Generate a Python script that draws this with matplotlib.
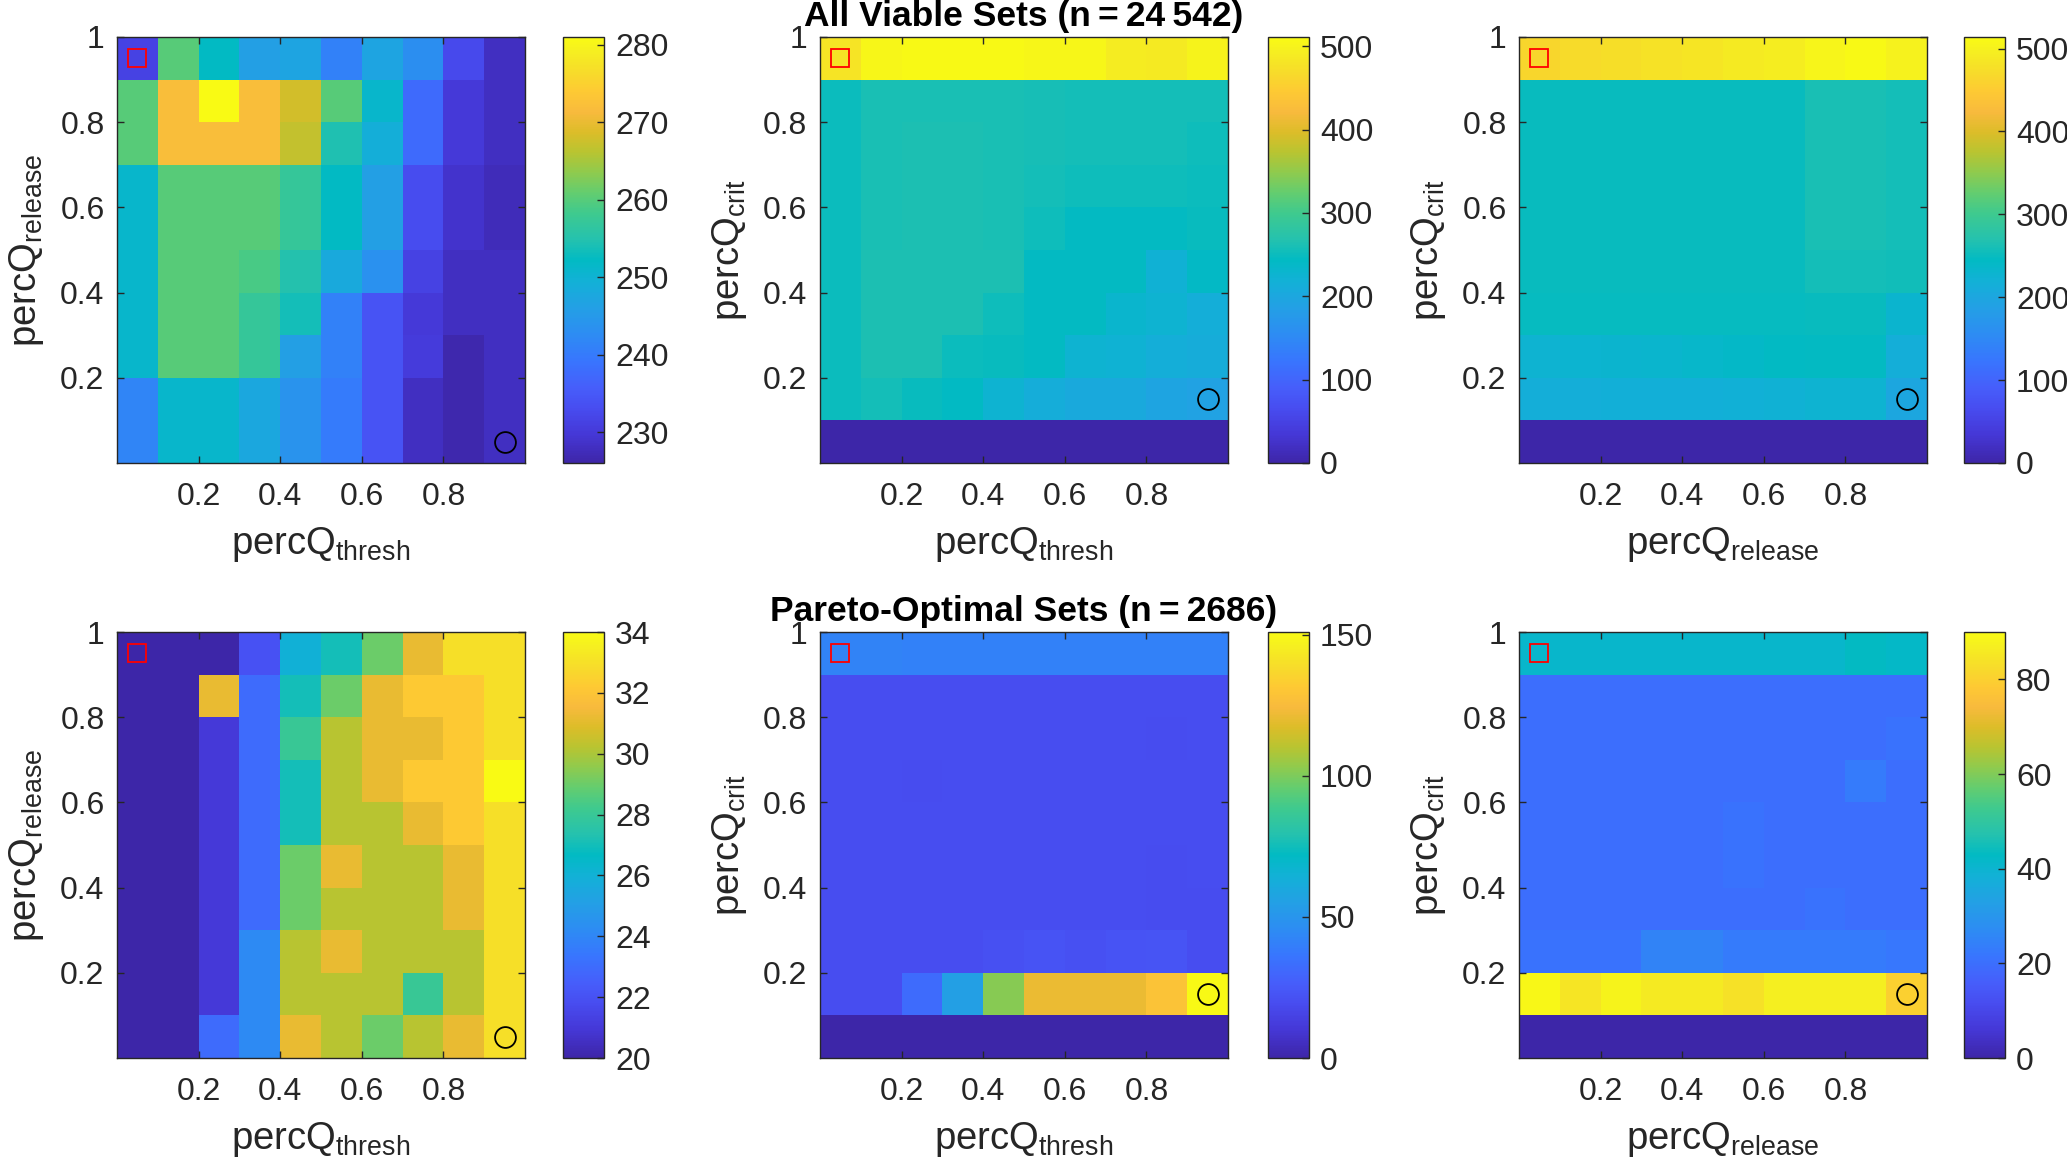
import numpy as np
import matplotlib
matplotlib.use("Agg")
import matplotlib.pyplot as plt
from matplotlib.colors import LinearSegmentedColormap

plt.rcParams['font.family'] = ['Liberation Sans', 'DejaVu Sans']
plt.rcParams['mathtext.fontset'] = 'custom'
plt.rcParams['mathtext.rm'] = 'Liberation Sans'

# rows listed from top (0.9-1) to bottom (0-0.1), columns left to right
viable_rel_thr = [
    [231.5, 260, 252, 246, 247, 241, 247, 243, 232.5, 228],
    [260, 272, 281, 272, 268, 260, 251, 237.5, 230, 228],
    [260, 272, 272, 272, 267, 254.5, 249, 237.5, 230, 228],
    [251, 260, 260, 260, 257, 252, 246, 233, 229, 227.5],
    [251, 260, 260, 260, 257, 252, 246, 233, 229, 227.5],
    [251, 260, 260, 259, 255, 248, 243.5, 231.5, 228, 228],
    [251, 260, 260, 257, 253.5, 241, 234, 230, 228, 228],
    [251, 260, 260, 257, 246, 241, 234, 230.5, 226.5, 228],
    [241.5, 251, 251, 247.5, 244, 240, 234, 228, 226.5, 228],
    [241.5, 251, 251, 247.5, 244, 240, 234, 228, 226.5, 228],
]
viable_crit_thr = [
    [480, 505, 508, 508, 508, 505, 505, 490, 488, 500],
    [250, 260, 260, 260, 260, 258, 256, 256, 256, 256],
    [250, 260, 263, 263, 260, 258, 256, 256, 256, 253],
    [250, 260, 263, 263, 260, 256, 253, 253, 253, 250],
    [250, 260, 263, 263, 260, 253, 245, 245, 245, 248],
    [250, 263, 263, 263, 263, 245, 245, 245, 220, 240],
    [250, 263, 263, 263, 253, 245, 245, 230, 225, 215],
    [250, 263, 263, 250, 248, 245, 225, 222, 215, 210],
    [250, 256, 248, 243, 225, 212, 205, 205, 195, 190],
    [0, 0, 0, 0, 0, 0, 0, 0, 0, 0],
]
viable_crit_rel = [
    [465, 470, 475, 480, 485, 490, 495, 505, 510, 500],
    [250, 250, 250, 250, 250, 250, 250, 262, 262, 258],
    [250, 250, 250, 250, 250, 250, 250, 262, 262, 258],
    [250, 250, 250, 250, 250, 250, 250, 262, 262, 258],
    [250, 250, 250, 250, 250, 250, 250, 262, 262, 258],
    [250, 250, 250, 250, 250, 250, 250, 258, 258, 255],
    [248, 248, 248, 248, 248, 248, 248, 250, 250, 230],
    [225, 228, 230, 232, 235, 240, 243, 245, 245, 215],
    [215, 215, 217, 218, 218, 220, 222, 225, 225, 200],
    [0, 0, 0, 0, 0, 0, 0, 0, 0, 0],
]
pareto_rel_thr = [
    [20, 20, 20, 22, 26, 27, 29, 31.2, 33, 33],
    [20, 20, 31.2, 23, 27, 29, 31.2, 32.2, 32.2, 33],
    [20, 20, 21, 23, 28, 30.2, 31.2, 31.2, 32.2, 33],
    [20, 20, 21, 23, 27, 30.2, 31.2, 32.2, 32.2, 34],
    [20, 20, 21, 23, 27, 30.2, 30.2, 31.2, 32.2, 33],
    [20, 20, 21, 23, 29, 31.2, 30.2, 30.2, 31.2, 33],
    [20, 20, 21, 23, 29, 30.2, 30.2, 30.2, 31.2, 33],
    [20, 20, 21, 24.2, 30.2, 31.2, 30.2, 30.2, 30.2, 33],
    [20, 20, 21, 24.2, 30.2, 30.2, 30.2, 28, 30.2, 33],
    [20, 20, 23, 24.2, 31.2, 30.2, 29, 30.2, 31.2, 33],
]
pareto_crit_thr = [
    [42, 42, 41, 41, 41, 41, 41, 41, 41, 41],
    [20, 20, 20, 20, 20, 20, 20, 20, 20, 20],
    [20, 20, 20, 20, 20, 20, 20, 20, 19, 20],
    [20, 20, 19, 20, 20, 20, 20, 20, 20, 20],
    [20, 20, 20, 20, 20, 20, 20, 20, 20, 20],
    [20, 20, 20, 20, 20, 20, 20, 20, 19, 20],
    [20, 20, 20, 20, 20, 20, 20, 20, 19, 19],
    [20, 20, 20, 20, 21, 22, 21, 22, 23, 20],
    [20, 20, 32, 55, 102, 121, 121, 121, 129, 150],
    [0, 0, 0, 0, 0, 0, 0, 0, 0, 0],
]
pareto_crit_rel = [
    [41, 41, 41, 41, 41, 41, 41, 41, 43, 42],
    [20, 20, 20, 20, 20, 20, 20, 20, 20, 20],
    [20, 20, 20, 20, 20, 20, 20, 20, 20, 21],
    [20, 20, 20, 20, 20, 20, 20, 20, 23, 20],
    [20, 20, 20, 20, 20, 21, 20, 20, 20, 20],
    [20, 20, 20, 20, 20, 21, 20, 20, 20, 20],
    [20, 20, 20, 20, 20, 20, 20, 21, 20, 20],
    [21, 21, 21, 25, 25, 23, 23, 23, 23, 22],
    [89, 85, 88, 86, 86, 84, 87, 87, 87, 80],
    [0, 0, 0, 0, 0, 0, 0, 0, 0, 0],
]

# colour limits and colorbar ticks
clims = [(226, 281), (0, 511), (0, 514), (20, 34), (0, 151), (0, 90)]
cbar_ticks = [
    [230, 240, 250, 260, 270, 280],
    [0, 100, 200, 300, 400, 500],
    [0, 100, 200, 300, 400, 500],
    [20, 22, 24, 26, 28, 30, 32, 34],
    [0, 50, 100, 150],
    [0, 20, 40, 60, 80],
]
x_names = ['thresh', 'thresh', 'release', 'thresh', 'thresh', 'release']
y_names = ['release', 'crit', 'crit', 'release', 'crit', 'crit']
titles = ['', 'All Viable Sets (n\u2009=\u200924\u2009542)', '',
          '', 'Pareto-Optimal Sets (n\u2009=\u20092686)', '']

# highlighted parameter sets (square = one end, circle = other end)
square_pt = (0.05, 0.95)
circle_pts = [(0.95, 0.05), (0.95, 0.15), (0.95, 0.15),
              (0.95, 0.05), (0.95, 0.15), (0.95, 0.15)]

# parula samples: (index out of 63, rgb)
parula_pts = [
    (0, (0.2422, 0.1504, 0.6603)), (4, (0.2706, 0.2147, 0.8364)),
    (8, (0.2813, 0.3006, 0.9414)), (11, (0.2760, 0.3667, 0.9829)),
    (15, (0.2206, 0.4603, 0.9973)), (19, (0.1764, 0.5499, 0.9520)),
    (23, (0.1380, 0.6276, 0.8973)), (27, (0.0689, 0.6948, 0.8394)),
    (30, (0.0067, 0.7312, 0.7660)), (33, (0.1408, 0.7584, 0.6842)),
    (37, (0.2470, 0.7918, 0.5567)), (40, (0.3909, 0.8029, 0.4354)),
    (43, (0.5616, 0.7942, 0.3045)), (46, (0.7242, 0.7698, 0.1910)),
    (49, (0.8634, 0.7406, 0.1596)), (52, (0.9728, 0.7298, 0.2394)),
    (55, (0.9952, 0.7893, 0.2028)), (58, (0.9676, 0.8639, 0.1643)),
    (61, (0.9628, 0.9373, 0.1265)), (63, (0.9769, 0.9839, 0.0805)),
]
parula = LinearSegmentedColormap.from_list(
    "parula", [(k / 63, rgb) for k, rgb in parula_pts], N=256)

data = [viable_rel_thr, viable_crit_thr, viable_crit_rel,
        pareto_rel_thr, pareto_crit_thr, pareto_crit_rel]

W, H = 2067, 1165
fig = plt.figure(figsize=(W / 100, H / 100), dpi=100)

ax_left = [117, 820, 1519]
cb_left = [563, 1268, 1964]
row_top = [37, 632]
ax_w, ax_h, cb_w = 408, 426, 41
dark = '#262626'

for i in range(6):
    r, c = divmod(i, 3)
    y0 = 1 - (row_top[r] + ax_h) / H
    ax = fig.add_axes([ax_left[c] / W, y0, ax_w / W, ax_h / H])
    cax = fig.add_axes([cb_left[c] / W, y0, cb_w / W, ax_h / H])

    im = ax.imshow(np.array(data[i]), cmap=parula, vmin=clims[i][0], vmax=clims[i][1],
                   extent=(0, 1, 0, 1), origin='upper', aspect='auto',
                   interpolation='nearest')
    ax.plot(*square_pt, 's', ms=13, mfc='none', mec='red', mew=1.3)
    ax.plot(*circle_pts[i], 'o', ms=15, mfc='none', mec='black', mew=1.3)

    ax.set_xlim(0, 1)
    ax.set_ylim(0, 1)
    ax.set_xticks([0.2, 0.4, 0.6, 0.8])
    ax.set_xticklabels(['0.2', '0.4', '0.6', '0.8'])
    ax.set_yticks([0.2, 0.4, 0.6, 0.8, 1])
    ax.set_yticklabels(['0.2', '0.4', '0.6', '0.8', '1'])
    ax.tick_params(direction='in', length=5, width=1, colors=dark,
                    labelsize=23, top=True, right=True, pad=9)
    ax.tick_params(axis='x', pad=14)
    for sp in ax.spines.values():
        sp.set_color(dark)
        sp.set_linewidth(1.0)

    ax.set_xlabel(r'percQ$_{\mathregular{%s}}$' % x_names[i], fontsize=27.5,
                  color=dark, labelpad=9)
    ax.set_ylabel(r'percQ$_{\mathregular{%s}}$' % y_names[i], fontsize=27.5,
                  color=dark, labelpad=10)
    if titles[i]:
        ax.set_title(titles[i], fontsize=25.5, fontweight='bold', color='black', pad=8)

    cb = fig.colorbar(im, cax=cax, ticks=cbar_ticks[i])
    cax.tick_params(direction='in', length=5, width=1, colors=dark,
                    labelsize=23, pad=8)
    cb.outline.set_edgecolor(dark)
    cb.outline.set_linewidth(1.0)

fig.savefig("out.png", dpi=100)
